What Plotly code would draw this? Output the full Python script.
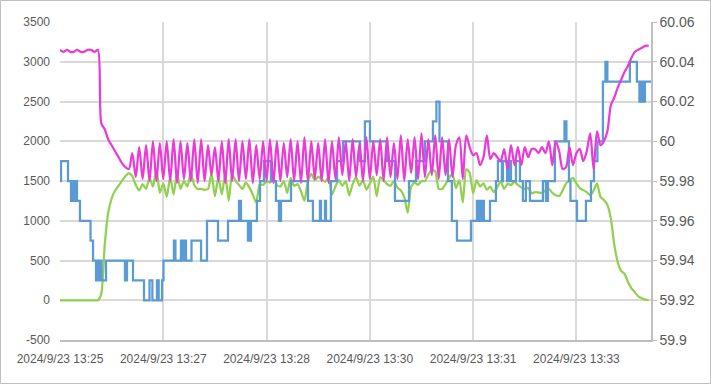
import plotly.graph_objects as go

# sample clock: seconds after 2024/9/23 13:25:00, one sample every 3 s
sample_step_s = 3

# magenta series (right axis, frequency-like)
magenta_vals = [
    60.046, 60.045, 60.046, 60.045, 60.045, 60.046, 60.045, 60.045, 60.046, 60.046, 60.045, 60.046,
    60.009, 60.006, 60.001, 59.998, 59.995, 59.992, 59.989, 59.987, 59.986,
    59.994, 59.982, 59.997, 59.981, 59.998, 59.980, 60.000, 59.980, 59.999, 59.981,
    60.000, 59.980, 60.001, 59.979, 60.000, 59.981, 59.999, 59.980, 60.001, 59.979,
    60.001, 59.980, 59.998, 59.983, 59.997, 59.980, 60.000, 59.979, 60.001, 59.980,
    60.001, 59.980, 60.000, 59.981, 60.001, 59.979, 59.998, 59.981, 60.000, 59.980,
    60.001, 59.979, 60.000, 59.980, 59.999, 59.982, 60.001, 59.980, 60.000, 59.979,
    60.002, 59.980, 60.000, 59.981, 59.999, 59.980, 60.001, 59.979, 60.000, 59.981,
    60.002, 59.983, 60.000, 59.980, 60.001, 59.982, 59.999, 59.980, 60.002, 59.981,
    60.000, 59.983, 60.001, 59.980, 60.002, 59.982, 59.999, 59.981, 60.003, 59.980,
    60.001, 59.984, 60.002, 59.981, 60.004, 59.982, 60.001, 59.983, 60.003, 59.981,
    60.002, 59.983, 60.001, 59.982, 59.998,
    60.002, 59.981, 60.003, 59.997, 59.993, 59.994, 59.988, 59.992, 60.003, 59.991,
    59.994, 59.992, 59.990, 59.996, 59.986, 59.998, 59.988, 59.997, 59.988, 59.997,
    59.992, 59.996, 59.996, 59.994, 59.997, 59.994, 60.000, 59.988, 60.000, 59.995,
    59.986, 59.987, 59.997, 59.988, 59.994, 59.996, 59.990, 59.995, 60.004, 59.986,
    60.005, 59.998, 60.000, 60.005, 60.018, 60.022, 60.027, 60.031, 60.035, 60.038,
    60.042, 60.045, 60.046, 60.047, 60.048, 60.048,
]

# green series (left axis)
green_vals = [
    0, 0, 0, 0, 0, 0, 0, 0, 0, 0, 0, 0,
    80, 700, 1100, 1280, 1380, 1440, 1500, 1560, 1600,
    1560, 1450, 1380, 1460, 1400, 1540, 1430, 1650, 1350, 1470,
    1300, 1550, 1330, 1600, 1400, 1500, 1430, 1610, 1450, 1400,
    1400, 1390, 1400, 1600, 1310, 1550, 1330, 1590, 1250, 1590,
    1500, 1450, 1400, 1480, 1420, 1330, 1230, 1460, 1450, 1500,
    1480, 1540, 1450,
    1430, 1500, 1350, 1540, 1440, 1460, 1370, 1250, 1500, 1590,
    1510, 1555, 1520, 1490, 1540, 1330, 1430, 1510, 1440, 1500,
    1320, 1460, 1550, 1440, 1510, 1390, 1470, 1555, 1310, 1550,
    1510, 1460, 1440, 1500, 1420, 1380, 1300, 1100, 1430, 1480,
    1450, 1500, 1500, 1580, 1640, 1620, 1400, 1400, 1460, 1540,
    1590, 1410,
    1510, 1230, 1650, 1600, 1345, 1510, 1430, 1470, 1390, 1430,
    1360, 1420, 1500, 1400, 1465, 1450, 1490, 1450, 1420, 1400,
    1410, 1345, 1360, 1355, 1350, 1380, 1400, 1350, 1320, 1310,
    1380, 1470, 1510, 1540, 1470, 1410, 1385, 1360, 1320, 1380,
    1470, 1300, 1261, 1200, 1030, 700, 480, 370, 330, 230,
    150, 100, 50, 25, 8, 3,
]

# blue series (left axis): step change times (s) and values
blue_t = [0, 0.9, 7.0, 9.6, 10.9, 12.2, 13.5, 14.8, 17.4, 26.6, 28.8, 31.4, 32.7, 34.0, 35.3, 36.2,
          40.1, 56.6, 58.4, 63.6, 73.2, 78.0, 80.5, 84.5, 86.0, 88.9, 90.2, 99.3,
          100.6, 105.4, 107.2, 108.0, 109.8, 114.6, 122.9, 128.1, 137.7, 146.4, 156.0, 157.7,
          163.8, 164.7, 165.5, 166.4, 171.6, 174.3, 177.7, 183.8, 188.2, 190.8, 192.6, 201.3,
          216.1, 220.4, 226.5, 227.4, 230.9, 231.8, 236.1, 241.4, 246.6, 261.4, 265.7, 270.1,
          284.9, 291.9, 304.1, 310.2, 318.0, 325.0, 328.0, 330.7, 338.1, 341.5, 345.9, 358.1,
          363.3, 364.2, 366.0, 366.8, 368.6, 369.4, 374.7, 379.9, 381.6, 385.1, 386.0, 389.6,
          391.4, 393.0, 397.3, 400.8, 403.4, 406.0, 409.5, 420.8, 423.4, 425.2, 431.3, 439.6,
          441.3, 443.5, 444.8, 450.5, 458.3, 462.7, 465.3, 468.3, 473.1, 475.3, 477.0, 496.6,
          502.7, 504.9, 505.8, 506.7, 507.6, 508.4, 509.7, 515]
blue_vals = [1500, 1750, 1500, 1250, 1500, 1250, 1500, 1250, 1000, 750, 500, 250, 500, 250, 500, 250,
             500, 250, 500, 250, 0, 250, 0, 250, 0, 250, 500, 750,
             500, 750, 500, 750, 500, 750, 500, 1000, 750, 1000, 1250, 1000,
             750, 1000, 750, 1000, 1250, 1500, 1750, 1500, 1250, 1000, 1250, 1500,
             1250, 1000, 1250, 1000, 1250, 1000, 1500, 1750, 2000, 1750, 2250, 2000,
             1750, 1250, 1500, 1750, 2000, 2250, 2500, 2000, 1500, 1000, 750, 1000,
             1250, 1000, 1250, 1000, 1250, 1000, 1250, 1500, 1750, 1500, 1750, 1500,
             1750, 1500, 1750, 1500, 1250, 1500, 1250, 1500, 1250, 1500, 2000, 2250,
             2000, 1500, 1250, 1000, 1250, 1500, 1750, 2000, 2750, 3000, 2750, 3000,
             2750, 2500, 2750, 2500, 2750, 2500, 2750, 2750]

# axes
x_tick_s = [0, 90, 180, 270, 360, 450]
x_tick_labels = ["2024/9/23 13:25", "2024/9/23 13:27", "2024/9/23 13:28",
                 "2024/9/23 13:30", "2024/9/23 13:31", "2024/9/23 13:33"]
x_range_s = [0, 515]
left_range = [-500, 3500]
left_ticks = [-500, 0, 500, 1000, 1500, 2000, 2500, 3000, 3500]
left_tick_labels = ["-500", "0", "500", "1000", "1500", "2000", "2500", "3000", "3500"]
right_range = [59.9, 60.06]
right_ticks = [59.9, 59.92, 59.94, 59.96, 59.98, 60.0, 60.02, 60.04, 60.06]
right_tick_labels = ["59.9", "59.92", "59.94", "59.96", "59.98", "60", "60.02", "60.04", "60.06"]

t_mag = [sample_step_s * i for i in range(len(magenta_vals))]
t_green = [sample_step_s * i for i in range(len(green_vals))]

fig = go.Figure()
fig.add_trace(go.Scatter(x=t_green, y=green_vals, mode="lines", line_shape="spline",
                         line=dict(color="#92D050", width=2.25, smoothing=0.6), yaxis="y"))
fig.add_trace(go.Scatter(x=t_mag, y=magenta_vals, mode="lines", line_shape="spline",
                         line=dict(color="#EA3BD8", width=2.25, smoothing=0.8), yaxis="y2"))
fig.add_trace(go.Scatter(x=blue_t, y=blue_vals, mode="lines", line_shape="hv",
                         line=dict(color="#5B9BD5", width=2.25), yaxis="y"))

font_family = "Liberation Sans, Arial, sans-serif"
label_color = "#595959"
fig.update_layout(
    width=711, height=384,
    margin=dict(l=60, r=60, t=22, b=44),
    paper_bgcolor="white", plot_bgcolor="white",
    showlegend=False,
    font=dict(family=font_family, size=12, color=label_color),
    xaxis=dict(range=x_range_s, tickvals=x_tick_s, ticktext=x_tick_labels, automargin=False,
               tickangle=0,
               showgrid=True, gridcolor="#D9D9D9", gridwidth=1.5,
               showline=True, linecolor="#BFBFBF", linewidth=1.5,
               zeroline=False, ticks="", ticklabelstandoff=7,
               tickfont=dict(family=font_family, size=12, color=label_color)),
    yaxis=dict(range=left_range, tickvals=left_ticks, ticktext=left_tick_labels, automargin=False,
               showgrid=True, gridcolor="#D9D9D9", gridwidth=1.5,
               showline=False, zeroline=False, ticks="",
               ticklabelstandoff=9,
               tickfont=dict(family=font_family, size=12, color=label_color)),
    yaxis2=dict(range=right_range, overlaying="y", side="right", automargin=False,
                tickvals=right_ticks, ticktext=right_tick_labels,
                showgrid=False, zeroline=False,
                showline=True, linecolor="#BFBFBF", linewidth=1.5,
                ticks="outside", ticklen=4, tickcolor="#BFBFBF",
                tickfont=dict(family=font_family, size=14, color=label_color)),
    shapes=[dict(type="rect", xref="paper", yref="paper",
                 x0=-0.1007, x1=1.1007, y0=-0.1368, y1=1.0676,
                 line=dict(color="#BFBFBF", width=1), fillcolor="rgba(0,0,0,0)")],
)

fig.write_html("out.html", config={"displayModeBar": False},
               post_script="document.body.style.margin='0px';document.body.style.overflow='hidden';")
